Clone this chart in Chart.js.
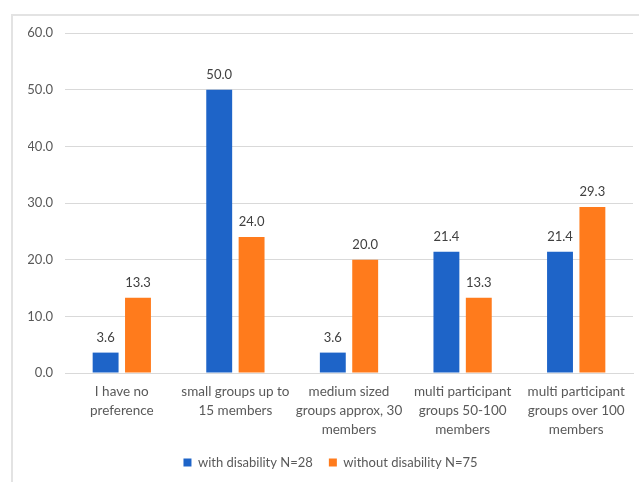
<!DOCTYPE html>
<html>
<head>
<meta charset="utf-8">
<script src="https://cdn.jsdelivr.net/npm/chart.js@4/dist/chart.umd.min.js"></script>
<style>
  html, body { margin: 0; padding: 0; background: #fff; }
  #wrap { position: relative; width: 639px; height: 482px; overflow: hidden; }
  #frame { position: absolute; left: 11px; top: 14px; width: 700px; height: 600px; border: 2px solid #e3e3e3; box-sizing: border-box; }
  #chart { position: absolute; left: 0; top: 0; }
</style>
</head>
<body>
<div id="wrap">
  <div id="frame"></div>
  <canvas id="chart" width="639" height="482"></canvas>
</div>
<script>
// categories + series values
const groupLabels = [
  ['I have no', 'preference'],
  ['small groups up to', '15 members'],
  ['medium sized', 'groups approx, 30', 'members'],
  ['multi participant', 'groups 50-100', 'members'],
  ['multi participant', 'groups over 100', 'members']
];
const withDisability = [3.6, 50.0, 3.6, 21.4, 21.4];
const withoutDisability = [13.3, 24.0, 20.0, 13.3, 29.3];
const seriesNames = ['with disability N=28', 'without disability N=75'];

const textGrey = '#595959';
const fontFam = 'Lato, "Open Sans", sans-serif';

// draws the value over each bar (no datalabels plugin here)
const valueLabels = {
  id: 'valueLabels',
  afterDatasetsDraw(chart) {
    const ctx = chart.ctx;
    ctx.save();
    ctx.font = '13px ' + fontFam;
    ctx.fillStyle = '#404040';
    ctx.textAlign = 'center';
    ctx.textBaseline = 'middle';
    chart.data.datasets.forEach((ds, i) => {
      chart.getDatasetMeta(i).data.forEach((bar, j) => {
        ctx.fillText(ds.data[j].toFixed(1), bar.x, bar.y - 15);
      });
    });
    ctx.restore();
  }
};

new Chart(document.getElementById('chart').getContext('2d'), {
  type: 'bar',
  data: {
    labels: groupLabels,
    datasets: [{
      label: seriesNames[0],
      data: withDisability,
      backgroundColor: '#1e64c8'
    }, {
      label: seriesNames[1],
      data: withoutDisability,
      backgroundColor: '#ff7b1c'
    }]
  },
  options: {
    responsive: false,
    animation: false,
    layout: { padding: { left: 28, right: 6, top: 33, bottom: 3 } },
    datasets: { bar: { categoryPercentage: 0.57, barPercentage: 0.8 } },
    plugins: {
      legend: {
        position: 'bottom',
        labels: {
          boxWidth: 8, boxHeight: 8, padding: 16,
          color: textGrey,
          font: { size: 13, family: fontFam }
        }
      },
      tooltip: { enabled: false }
    },
    scales: {
      x: {
        grid: { display: false, drawTicks: false },
        border: { color: '#d9d9d9' },
        ticks: {
          padding: 9, color: textGrey, maxRotation: 0, autoSkip: false,
          font: { size: 13.5, family: fontFam, lineHeight: '19px' }
        },
        afterFit(scale) { scale.height = 67; }
      },
      y: {
        min: 0, max: 60,
        grid: { color: '#d9d9d9', drawTicks: false },
        border: { display: false },
        ticks: {
          stepSize: 10, padding: 12, color: textGrey,
          font: { size: 13, family: fontFam },
          callback: v => v.toFixed(1)
        },
        afterFit(scale) { scale.width = 37; }
      }
    }
  },
  plugins: [valueLabels]
});
</script>
</body>
</html>
